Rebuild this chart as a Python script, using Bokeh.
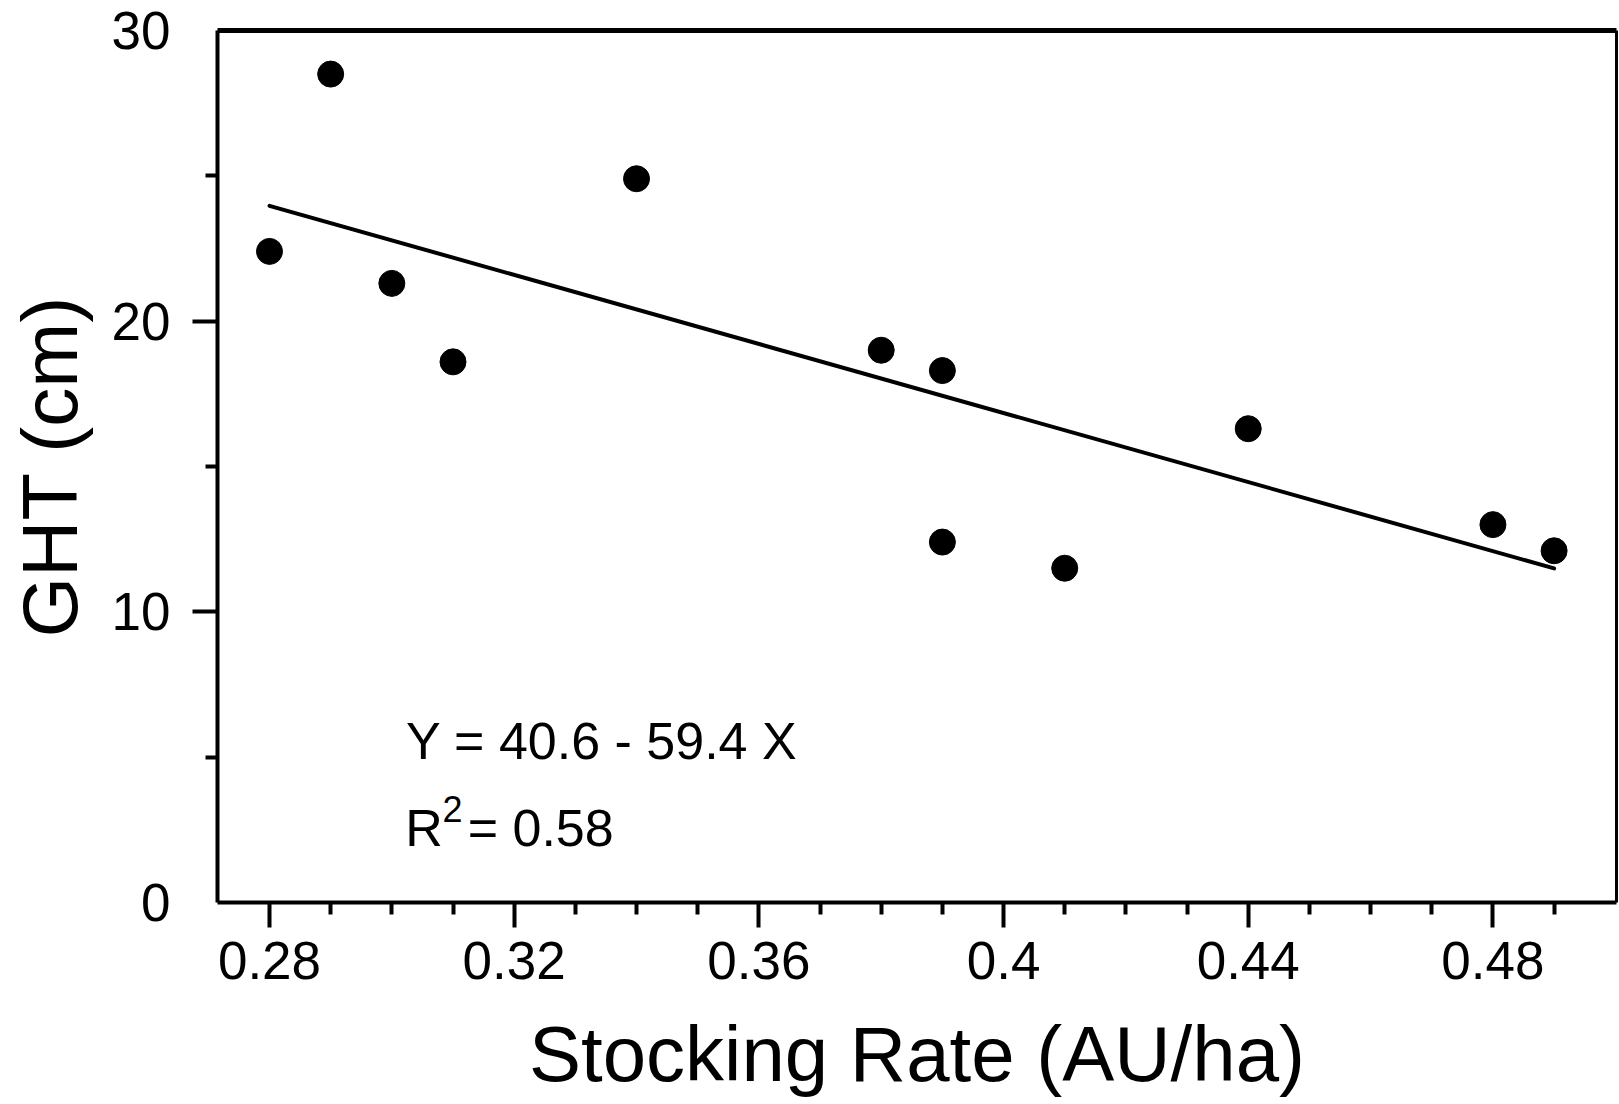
from bokeh.plotting import figure
from bokeh.models import FixedTicker, LinearAxis, Label, Range1d
from bokeh.embed import file_html
from bokeh.resources import INLINE

# ---- data ----
stocking_rate = [0.28, 0.29, 0.30, 0.31, 0.34, 0.38, 0.39, 0.39, 0.41, 0.44, 0.48, 0.49]
ght_cm = [22.4, 28.5, 21.3, 18.6, 24.9, 19.0, 18.3, 12.4, 11.5, 16.3, 13.0, 12.1]

x_ticks = [0.28, 0.32, 0.36, 0.40, 0.44, 0.48]
x_tick_labels = ["0.28", "0.32", "0.36", "0.4", "0.44", "0.48"]
x_minor_ticks = [0.29, 0.30, 0.31, 0.33, 0.34, 0.35, 0.37, 0.38, 0.39,
                 0.41, 0.42, 0.43, 0.45, 0.46, 0.47, 0.49]
y_label_ticks = [0, 10, 20, 30]
y_tick_labels = ["0", "10", "20", "30"]
y_major_marks = [10, 20]
y_minor_ticks = [5, 15, 25]

fit_intercept = 40.6
fit_slope = -59.4
r_squared = 0.58
fit_x = [0.28, 0.49]
fit_y = [fit_intercept + fit_slope * xv for xv in fit_x]

FONT = "Liberation Sans"
TICK_FS = "53px"
AXIS_FS = "78px"

p = figure(width=1619, height=1104, output_backend="svg", toolbar_location=None,
           x_range=Range1d(0.2715, 0.5002), y_range=Range1d(0, 30),
           min_border_left=217, min_border_right=3, min_border_top=30,
           min_border_bottom=202, outline_line_color=None,
           background_fill_color="white", border_fill_color="white")
p.xgrid.grid_line_color = None
p.ygrid.grid_line_color = None

def style_lines(ax):
    ax.axis_line_width = 4
    ax.axis_line_color = "black"
    ax.major_tick_line_width = 4
    ax.minor_tick_line_width = 4
    ax.major_tick_line_color = "black"
    ax.minor_tick_line_color = "black"
    ax.major_tick_in = 0
    ax.minor_tick_in = 0
    ax.major_tick_out = 25
    ax.minor_tick_out = 12

def style_text(ax):
    ax.major_label_text_font = FONT
    ax.major_label_text_font_size = TICK_FS
    ax.major_label_text_color = "black"
    ax.major_label_text_line_height = 1.0
    ax.axis_label_text_font = FONT
    ax.axis_label_text_font_size = AXIS_FS
    ax.axis_label_text_font_style = "normal"
    ax.axis_label_text_color = "black"
    ax.axis_label_text_line_height = 1.0

# bottom axis
xa = p.xaxis[0]
xa.ticker = FixedTicker(ticks=x_ticks, minor_ticks=x_minor_ticks)
xa.major_label_overrides = dict(zip(x_ticks, x_tick_labels))
xa.axis_label = "Stocking Rate (AU/ha)"
style_lines(xa)
style_text(xa)
xa.major_label_standoff = 14
xa.axis_label_standoff = 28

# left axis, inner part: the tick marks only (none at 0 and 30)
ya = p.yaxis[0]
ya.ticker = FixedTicker(ticks=y_major_marks, minor_ticks=y_minor_ticks)
ya.major_label_overrides = {t: "" for t in y_major_marks}
ya.major_label_standoff = 0
style_lines(ya)

# left axis, outer part: the labels
yl = LinearAxis(ticker=FixedTicker(ticks=y_label_ticks, minor_ticks=[]),
                axis_label="GHT (cm)", axis_line_color=None,
                major_tick_out=0, major_tick_in=0, minor_tick_out=0, minor_tick_in=0,
                major_tick_line_color=None, minor_tick_line_color=None)
yl.major_label_overrides = dict(zip(y_label_ticks, y_tick_labels))
style_text(yl)
yl.major_label_standoff = 22
yl.axis_label_standoff = 15
p.add_layout(yl, "left")

# top and right frame lines
top = LinearAxis(ticker=FixedTicker(ticks=[]), axis_line_width=5, axis_line_color="black",
                 major_tick_out=0, major_tick_in=0, minor_tick_out=0, minor_tick_in=0)
right = LinearAxis(ticker=FixedTicker(ticks=[]), axis_line_width=3, axis_line_color="black",
                   major_tick_out=0, major_tick_in=0, minor_tick_out=0, minor_tick_in=0)
p.add_layout(top, "above")
p.add_layout(right, "right")

# data
p.line(fit_x, fit_y, line_width=4, line_color="black", line_cap="round")
p.scatter(stocking_rate, ght_cm, size=26, marker="circle", fill_color="black", line_color="black")

# equation annotation
eq_text = f"Y = {fit_intercept} - {abs(fit_slope)} X"
p.add_layout(Label(x=0.3023, y=5.57, text=eq_text, text_baseline="alphabetic",
                   text_font=FONT, text_font_size="52px", text_color="black"))
p.add_layout(Label(x=0.3022, y=2.58, text="R", text_baseline="alphabetic",
                   text_font=FONT, text_font_size="52px", text_color="black"))
p.add_layout(Label(x=0.3083, y=3.23, text="2", text_baseline="alphabetic",
                   text_font=FONT, text_font_size="36px", text_color="black"))
p.add_layout(Label(x=0.3124, y=2.58, text=f"= {r_squared}", text_baseline="alphabetic",
                   text_font=FONT, text_font_size="52px", text_color="black"))

open("out.html", "w").write(file_html(p, INLINE))
